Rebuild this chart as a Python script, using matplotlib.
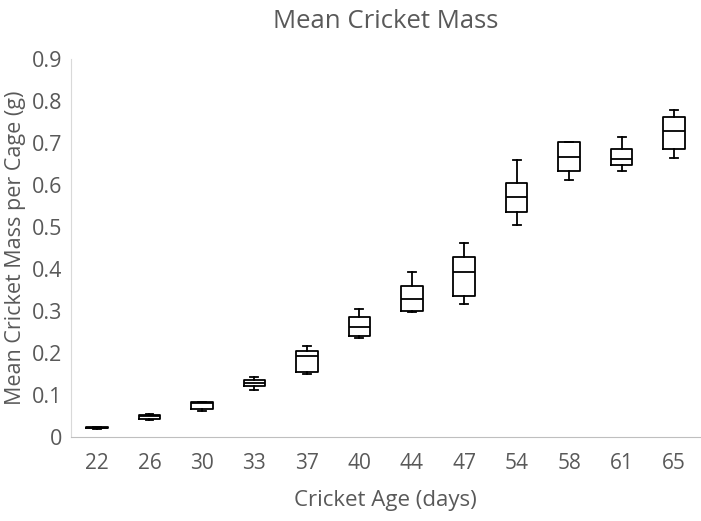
import matplotlib
matplotlib.use("Agg")
import matplotlib.pyplot as plt
from matplotlib.ticker import FuncFormatter

# Box plot values (grams)
ages = ["22", "26", "30", "33", "37", "40", "44", "47", "54", "58", "61", "65"]
whisker_low = [0.019, 0.039, 0.061, 0.112, 0.150, 0.234, 0.296, 0.317, 0.505, 0.612, 0.632, 0.665]
q1 = [0.020, 0.043, 0.066, 0.120, 0.155, 0.239, 0.300, 0.336, 0.536, 0.634, 0.646, 0.686]
median = [0.021, 0.049, 0.080, 0.127, 0.193, 0.262, 0.327, 0.393, 0.570, 0.667, 0.662, 0.729]
q3 = [0.023, 0.052, 0.083, 0.136, 0.203, 0.286, 0.360, 0.429, 0.605, 0.703, 0.686, 0.762]
whisker_high = [0.024, 0.055, 0.083, 0.142, 0.215, 0.303, 0.391, 0.462, 0.658, 0.703, 0.715, 0.779]

TEXT = "#595959"
plt.rcParams['font.family'] = ['Open Sans', 'DejaVu Sans']

fig = plt.figure(figsize=(7.01, 5.21), dpi=100)
ax = fig.add_axes([0.101, 0.162, 0.898, 0.725])

stats = []
for i, label in enumerate(ages):
    stats.append({
        "label": label,
        "whislo": whisker_low[i],
        "q1": q1[i],
        "med": median[i],
        "q3": q3[i],
        "whishi": whisker_high[i],
        "fliers": [],
    })

line = dict(color="black", linewidth=1.3)
ax.bxp(stats, positions=range(len(ages)), widths=0.41, showfliers=False,
       boxprops=line, medianprops=line, whiskerprops=line,
       capprops=line, capwidths=0.15)

ax.set_xlim(-0.5, len(ages) - 0.5)
ax.set_ylim(0, 0.9)
ax.set_yticks([i / 10 for i in range(10)])
ax.yaxis.set_major_formatter(FuncFormatter(lambda v, p: "0" if v == 0 else f"{v:.1f}"))
ax.set_xticks(range(len(ages)))
ax.set_xticklabels(ages)
ax.tick_params(axis="x", length=0, labelsize=15, colors=TEXT, pad=12)
ax.tick_params(axis="y", length=0, labelsize=15.5, colors=TEXT, pad=6)

for side in ["top", "right"]:
    ax.spines[side].set_visible(False)
ax.spines["left"].set_color("#D9D9D9")
ax.spines["bottom"].set_color("#BFBFBF")

ax.set_title("Mean Cricket Mass", fontsize=18.5, color=TEXT, pad=22)
ax.set_xlabel("Cricket Age (days)", fontsize=16, color=TEXT, labelpad=11)
ax.set_ylabel("Mean Cricket Mass per Cage (g)", fontsize=15.5, color=TEXT, labelpad=4)

fig.savefig("out.png", dpi=100)
